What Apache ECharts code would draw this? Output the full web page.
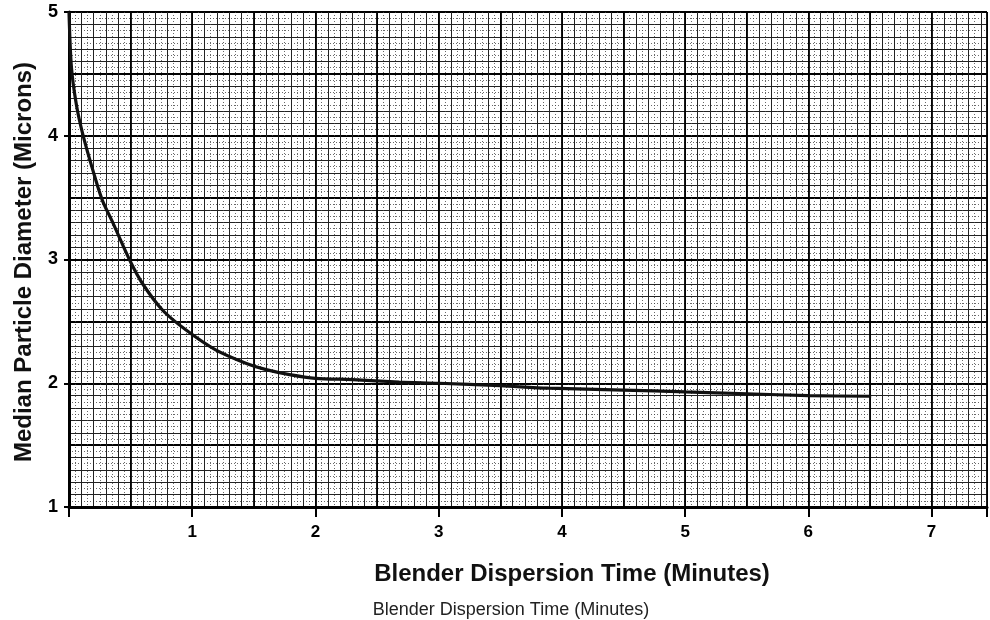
<!DOCTYPE html>
<html>
<head>
<meta charset="utf-8">
<script src="https://cdn.jsdelivr.net/npm/echarts@6/dist/echarts.min.js"></script>
<style>html,body{margin:0;padding:0;background:#fff}#c{width:990px;height:620px}</style>
</head>
<body>
<div id="c"></div>
<script>
// Data
var timeMinutes = [0.0, 0.02, 0.06, 0.11, 0.2, 0.27, 0.35, 0.5, 0.6, 0.76, 0.95, 1.19, 1.44, 1.6, 1.79, 2.0, 2.3, 2.68, 3.0, 3.5, 3.89, 4.5, 5.0, 5.5, 6.0, 6.51];
var medianDiameter = [5.0, 4.55, 4.25, 4.02, 3.7, 3.48, 3.31, 2.98, 2.80, 2.59, 2.43, 2.27, 2.16, 2.11, 2.07, 2.04, 2.03, 2.01, 2.0, 1.98, 1.96, 1.945, 1.93, 1.915, 1.90, 1.895];
var xTickLabels = ['1', '2', '3', '4', '5', '6', '7'];
var yTickLabels = ['1', '2', '3', '4', '5'];
var xTitle = 'Blender Dispersion Time (Minutes)';
var yTitle = 'Median Particle Diameter (Microns)';
var captionText = 'Blender Dispersion Time (Minutes)';

var FONT = '"Liberation Sans", Arial, Helvetica, sans-serif';
var XMIN = 0, XMAX = 7.45, YMIN = 1, YMAX = 5;

function gridAxis(interval, color, width, type, isX) {
  return {
    type: 'value', min: isX ? XMIN : YMIN, max: isX ? XMAX : YMAX, interval: interval,
    axisLine: {show: false}, axisTick: {show: false}, axisLabel: {show: false},
    splitLine: {show: true, lineStyle: {color: color, width: width, type: type}},
    z: 0
  };
}

var points = timeMinutes.map(function (t, i) { return [t, medianDiameter[i]]; });

var chart = echarts.init(document.getElementById('c'));
chart.setOption({
  backgroundColor: '#ffffff',
  animation: false,
  grid: {left: 69, top: 12, right: 0, bottom: 113, containLabel: false},
  xAxis: [
    {
      type: 'value', min: XMIN, max: XMAX, interval: 1, position: 'bottom',
      axisLine: {show: true, lineStyle: {color: '#000', width: 3}},
      axisTick: {show: true, inside: false, length: 10, lineStyle: {color: '#000', width: 2}},
      axisLabel: {
        show: true, margin: 17, color: '#000', fontFamily: FONT, fontWeight: 'bold', fontSize: 17,
        formatter: function (v) { var i = Math.round(v) - 1; return (Math.abs(v - Math.round(v)) < 1e-6 && i >= 0 && i < xTickLabels.length) ? xTickLabels[i] : ''; }
      },
      splitLine: {show: false}
    },
    gridAxis(0.05, '#444', 0.8, [1, 2], true),
    gridAxis(0.1, '#222', 1, 'solid', true),
    gridAxis(0.5, '#000', 1.8, 'solid', true)
  ],
  yAxis: [
    {
      type: 'value', min: YMIN, max: YMAX, interval: 1, position: 'left',
      axisLine: {show: true, lineStyle: {color: '#000', width: 3}},
      axisTick: {show: true, inside: false, length: 5, lineStyle: {color: '#000', width: 2}},
      axisLabel: {
        show: true, margin: 11, color: '#000', fontFamily: FONT, fontWeight: 'bold', fontSize: 18,
        formatter: function (v) { var i = Math.round(v) - 1; return (i >= 0 && i < yTickLabels.length) ? yTickLabels[i] : ''; }
      },
      splitLine: {show: false}
    },
    gridAxis(0.05, '#444', 0.8, [1, 2], false),
    gridAxis(0.1, '#222', 1, 'solid', false),
    gridAxis(0.5, '#000', 1.8, 'solid', false)
  ],
  series: [{
    type: 'line', xAxisIndex: 0, yAxisIndex: 0, data: points,
    smooth: 0.3, showSymbol: false,
    lineStyle: {color: '#111', width: 3.2}, z: 5
  }],
  graphic: [
    {type: 'text', x: 572, y: 574, style: {text: xTitle, fill: '#111', font: 'bold 24px ' + FONT, textAlign: 'center', textVerticalAlign: 'middle'}},
    {type: 'text', x: 511, y: 610, style: {text: captionText, fill: '#222', font: '18px ' + FONT, textAlign: 'center', textVerticalAlign: 'middle'}},
    {type: 'text', x: 24, y: 262, rotation: Math.PI / 2, style: {text: yTitle, fill: '#111', font: 'bold 24px ' + FONT, textAlign: 'center', textVerticalAlign: 'middle'}}
  ]
});
</script>
</body>
</html>
